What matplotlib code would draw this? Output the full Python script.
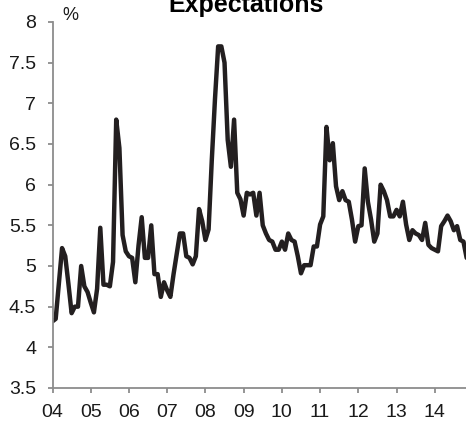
import matplotlib
matplotlib.use("Agg")
import matplotlib.pyplot as plt
import numpy as np

plt.rcParams['font.family'] = ['Liberation Sans', 'DejaVu Sans']

# Monthly series, Jan 2004 onward (%)
values = [
    4.32, 4.35, 4.78, 5.22, 5.12, 4.78, 4.42, 4.50, 4.50, 5.00, 4.75, 4.68,
    4.55, 4.43, 4.72, 5.47, 4.77, 4.77, 4.75, 5.05, 6.80, 6.45, 5.38, 5.18,
    5.12, 5.10, 4.80, 5.25, 5.60, 5.10, 5.10, 5.50, 4.90, 4.90, 4.62, 4.80,
    4.70, 4.62, 4.90, 5.15, 5.40, 5.40, 5.12, 5.10, 5.02, 5.12, 5.70, 5.55,
    5.32, 5.45, 6.30, 7.05, 7.70, 7.70, 7.50, 6.55, 6.22, 6.80, 5.90, 5.82,
    5.62, 5.90, 5.88, 5.90, 5.62, 5.90, 5.50, 5.40, 5.32, 5.30, 5.20, 5.20,
    5.30, 5.20, 5.40, 5.32, 5.30, 5.12, 4.91, 5.01, 5.01, 5.01, 5.24, 5.24,
    5.51, 5.61, 6.71, 6.30, 6.51, 5.98, 5.81, 5.92, 5.81, 5.79, 5.57, 5.30,
    5.49, 5.50, 6.20, 5.79, 5.57, 5.30, 5.40, 6.00, 5.92, 5.81, 5.61, 5.61,
    5.69, 5.61, 5.79, 5.51, 5.32, 5.44, 5.40, 5.38, 5.32, 5.53, 5.26, 5.22,
    5.20, 5.18, 5.49, 5.55, 5.62, 5.55, 5.44, 5.49, 5.32, 5.30, 5.10,
]
year_labels = ['04', '05', '06', '07', '08', '09', '10', '11', '12', '13', '14']
y_ticks = [3.5, 4, 4.5, 5, 5.5, 6, 6.5, 7, 7.5, 8]

W, H = 466, 422
fig = plt.figure(figsize=(W / 100, H / 100), dpi=100)
ax = fig.add_axes([52.5 / W, 1 - 388 / H, (W - 52.5) / W, (388 - 22) / H])

months = np.arange(len(values))
ax.plot(months, values, color='#231f20', lw=3.2,
        solid_joinstyle='round', solid_capstyle='round', clip_on=True)

ax.set_xlim(0, 129.8)
ax.set_ylim(3.5, 8)
ax.set_xticks(np.arange(len(year_labels)) * 12)
ax.set_xticklabels(year_labels)
ax.set_yticks(y_ticks)
ax.set_yticklabels([f'{v:g}' for v in y_ticks])

spine_color = '#8c8c8c'
for side in ('top', 'right'):
    ax.spines[side].set_visible(False)
for side in ('left', 'bottom'):
    ax.spines[side].set_color(spine_color)
    ax.spines[side].set_linewidth(1.3)
ax.tick_params(axis='both', direction='out', length=3.8, width=1.3,
               color=spine_color, labelsize=14, labelcolor='#1a1a1a')
ax.tick_params(axis='x', pad=8)
ax.tick_params(axis='y', pad=8)

fig.text(62 / W, 1 - 16 / H, '%', fontsize=13, color='#1a1a1a', va='center', ha='left')
fig.text(246 / W, 1 - 12 / H, 'Expectations', fontsize=18, fontweight='bold',
         color='#000000', ha='center', va='baseline')

fig.savefig('out.png', dpi=100)
